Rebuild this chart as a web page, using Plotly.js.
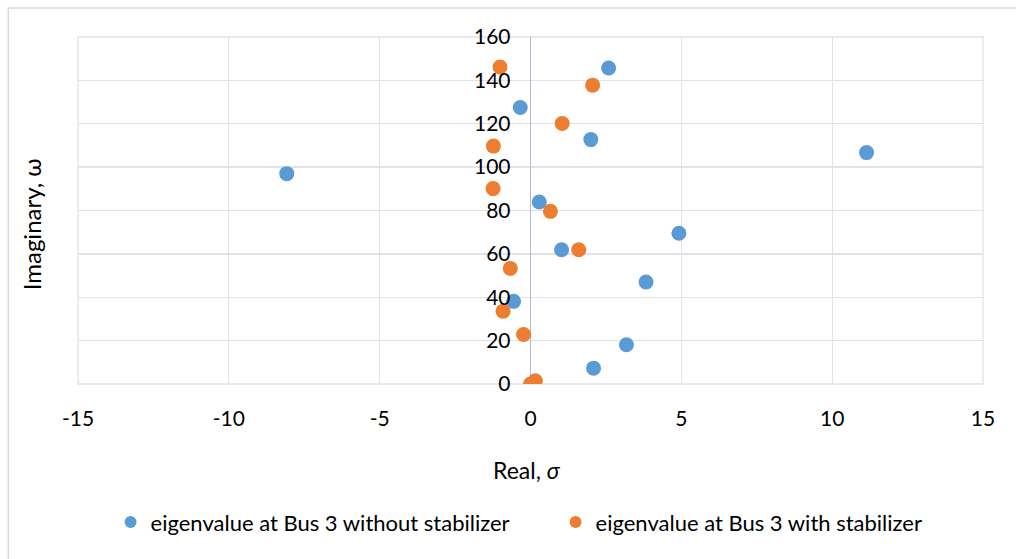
<!DOCTYPE html>
<html>
<head>
<meta charset="utf-8">
<script src="https://cdn.plot.ly/plotly-3.0.1.min.js"></script>
<style>
  html, body { margin: 0; padding: 0; background: #ffffff; }
  #chart { width: 1016px; height: 559px; }
</style>
</head>
<body>
<div id="chart"></div>
<script>
// Eigenvalues at Bus 3: real part (sigma) and imaginary part (omega)
const noStabReal = [2.59, -0.34, 2.00, 11.14, -8.08, 0.29, 1.03, 4.92, 3.83, -0.56, 3.18, 2.09];
const noStabImag = [145.7, 127.5, 112.7, 106.7, 97.0, 83.9, 61.9, 69.5, 47.0, 38.1, 18.1, 7.3];

const withStabReal = [-1.01, 2.06, 1.05, -1.23, -1.24, 0.66, 1.60, -0.67, -0.91, -0.23, 0.00, 0.16];
const withStabImag = [146.2, 137.8, 120.1, 109.7, 90.1, 79.6, 61.9, 53.3, 33.6, 22.8, 0.0, 1.5];

const seriesNames = [
  'eigenvalue at Bus 3 without stabilizer',
  'eigenvalue at Bus 3 with stabilizer'
];
const xTicks = [-15, -10, -5, 0, 5, 10, 15];
const yTicks = [0, 20, 40, 60, 80, 100, 120, 140, 160];

const FONT = 'Lato, "Open Sans", sans-serif';
const GRID = '#dfe2e7';

const traces = [
  {
    type: 'scatter', mode: 'markers', name: seriesNames[0],
    x: noStabReal, y: noStabImag,
    marker: { color: '#5b9bd5', size: 15 }
  },
  {
    type: 'scatter', mode: 'markers', name: seriesNames[1],
    x: withStabReal, y: withStabImag,
    marker: { color: '#ed7d31', size: 15 }
  }
];

const layout = {
  width: 1016, height: 559,
  paper_bgcolor: '#ffffff', plot_bgcolor: '#ffffff',
  margin: { l: 78, r: 33, t: 37, b: 175 },
  font: { family: FONT, size: 21, color: '#000000' },
  showlegend: true,
  xaxis: {
    range: [-15, 15], tickvals: xTicks, ticktext: xTicks.map(String),
    showgrid: true, gridcolor: GRID, gridwidth: 1.3,
    zeroline: true, zerolinecolor: '#aebbcc', zerolinewidth: 1.5,
    showline: false, ticks: '', ticklabelstandoff: 20,
    tickfont: { family: FONT, size: 21, color: '#000' }
  },
  yaxis: {
    range: [0, 160], tickvals: yTicks, ticktext: yTicks.map(String),
    anchor: 'free', position: 0.5,
    showgrid: true, gridcolor: GRID, gridwidth: 1.3,
    zeroline: false, showline: false, ticks: '', ticklabelstandoff: 20,
    tickfont: { family: FONT, size: 21, color: '#000' }
  },
  legend: {
    orientation: 'h', x: 0.036, xanchor: 'left', y: -0.338, yanchor: 'top',
    font: { family: FONT, size: 22, color: '#000' },
    itemsizing: 'constant', itemwidth: 30, entrywidth: 400
  },
  shapes: [
    // outer chart frame
    { type: 'rect', xref: 'paper', yref: 'paper', x0: -0.077, x1: 1.2, y0: -0.7, y1: 1.0836,
      line: { color: '#d9d9d9', width: 1.5 }, fillcolor: 'rgba(0,0,0,0)', layer: 'below' },
    // plot area top and edges
    { type: 'rect', xref: 'paper', yref: 'paper', x0: 0, x1: 1, y0: 0, y1: 1,
      line: { color: GRID, width: 1.3 }, fillcolor: 'rgba(0,0,0,0)', layer: 'below' }
  ],
  annotations: [
    { xref: 'paper', yref: 'paper', x: -0.052, y: 0.46, xanchor: 'center', yanchor: 'middle',
      text: 'Imaginary, ω', textangle: -90, showarrow: false,
      font: { family: FONT, size: 24, color: '#000' } },
    { xref: 'paper', yref: 'paper', x: 0.496, y: -0.248, xanchor: 'center', yanchor: 'middle',
      text: 'Real, <i>σ</i>', showarrow: false,
      font: { family: FONT, size: 23, color: '#000' } }
  ]
};

Plotly.newPlot('chart', traces, layout, { displayModeBar: false, staticPlot: true });
</script>
</body>
</html>
